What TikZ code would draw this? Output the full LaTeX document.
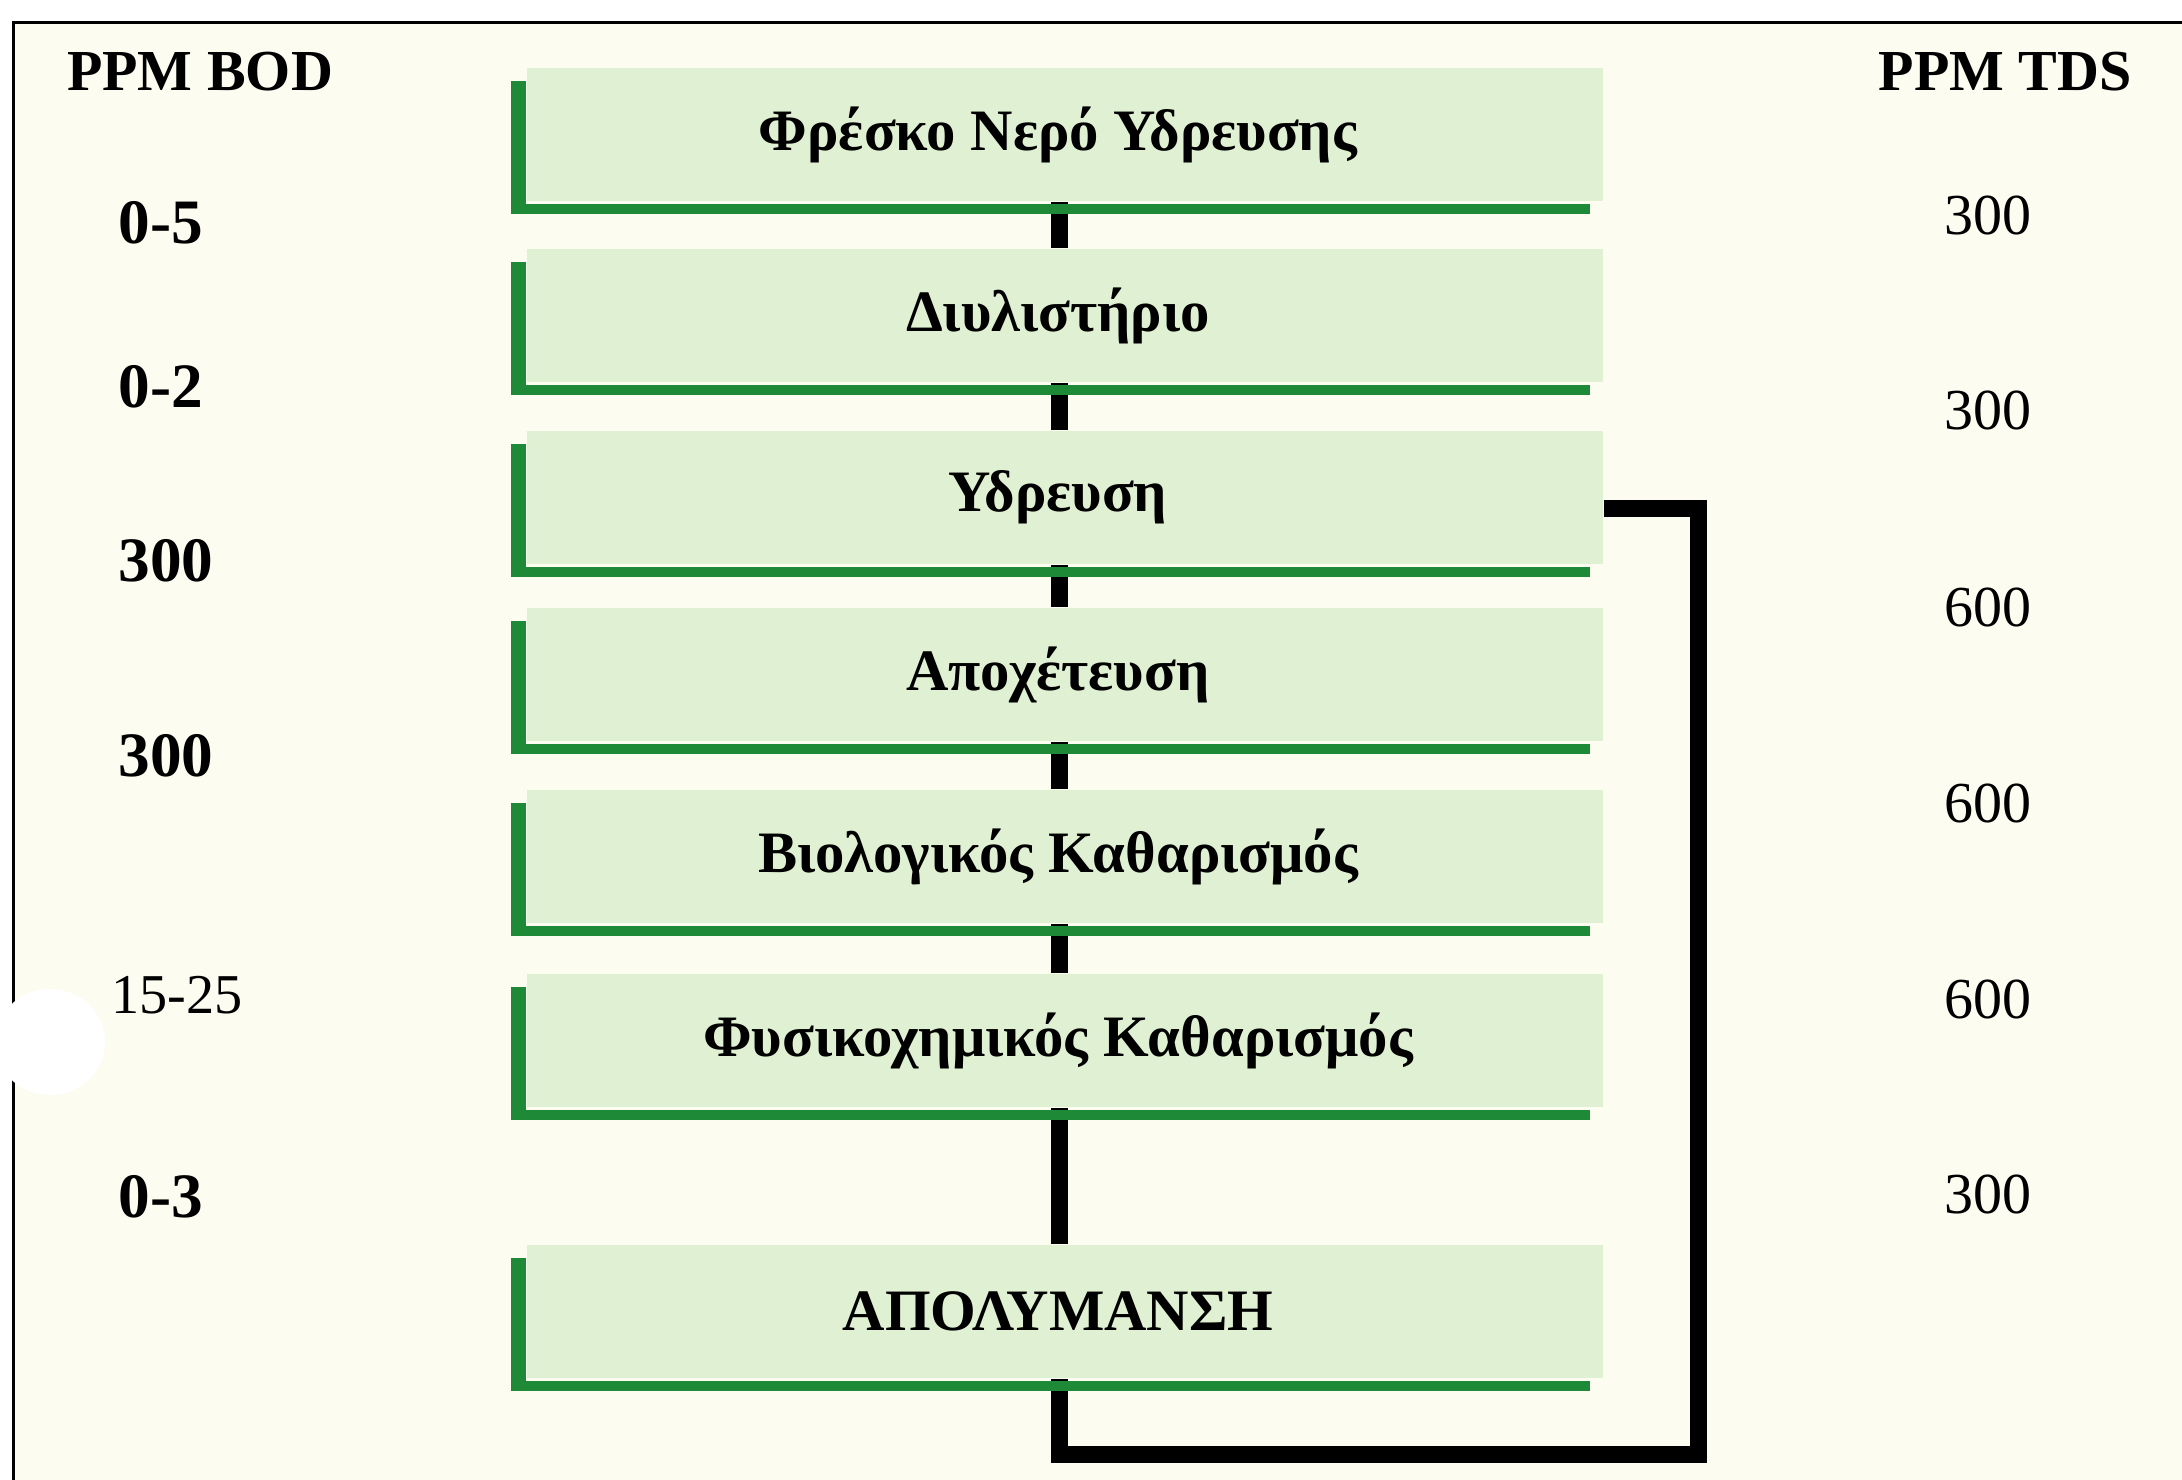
\documentclass[tikz,border=0pt]{standalone}
\usepackage{fontspec}
\setmainfont{Liberation Serif}
\definecolor{cream}{RGB}{253,252,241}
\definecolor{boxfill}{RGB}{224,241,211}
\definecolor{gline}{RGB}{30,138,55}
\begin{document}
\begin{tikzpicture}[x=0.1mm,y=-0.1mm,
  stage/.style={rectangle, fill=boxfill, minimum width=107.6mm, minimum height=13.3mm, inner sep=0pt,
    font=\bfseries\fontsize{16.7}{18}\selectfont, execute at begin node={\kern-1.4mm}},
  conn/.style={line width=1.7mm, black},
  loopline/.style={line width=1.7mm, black, line join=miter},
  glinefill/.style={fill=gline},
  bodlab/.style={anchor=west, inner sep=0pt, font=\bfseries\fontsize{18}{20}\selectfont},
  tdslab/.style={inner sep=0pt, font=\fontsize{16.5}{18}\selectfont},
  headlab/.style={inner sep=0pt, font=\bfseries\fontsize{16.5}{18}\selectfont}]
\useasboundingbox (0,0) rectangle (2182,1480);
\fill[white] (0,0) rectangle (2182,1480);
\fill[cream] (13,23) rectangle (2182,1480);
\draw[line width=0.3mm] (13,1480) -- (13,23) -- (2182,23);

% stages
\node[stage] (n1) at (1065,134.5) {Φρέσκο Νερό Υδρευσης};
\node[stage] (n2) at (1065,315.5) {Διυλιστήριο};
\node[stage] (n3) at (1065,497.5) {Υδρευση};
\node[stage] (n4) at (1065,674.5) {Αποχέτευση};
\node[stage] (n5) at (1065,856.5) {Βιολογικός Καθαρισμός};
\node[stage] (n6) at (1065,1040.5) {Φυσικοχημικός Καθαρισμός};
\node[stage] (n7) at (1065,1311.5) {ΑΠΟΛΥΜΑΝΣΗ};

% connectors
\foreach \a/\b in {n1/n2,n2/n3,n3/n4,n4/n5,n5/n6,n6/n7}
  \draw[conn] ([xshift=-0.6mm]\a.south) -- ([xshift=-0.6mm]\b.north);

% return loop
\coordinate (loopcorner) at (1698,1454);
\draw[loopline] ([yshift=-1.1mm]n3.east) -| (loopcorner) -| ([xshift=-0.6mm]n7.south);

% green L borders
\foreach \n in {n1,n2,n3,n4,n5,n6,n7}{
  \fill[glinefill] ([shift={(-15,14)}]\n.north west) rectangle ([shift={(0,12)}]\n.south west);
  \fill[glinefill] ([shift={(-15,2)}]\n.south west) rectangle ([shift={(-14,12)}]\n.south east);
}

% left column
\node[headlab] (hbod) at (200,72) {PPM BOD};
\node[bodlab] (b1) at (118,223) {0-5};
\node[bodlab] (b2) at (118,387) {0-2};
\node[bodlab] (b3) at (118,561) {300};
\node[bodlab] (b4) at (118,756) {300};
\node[anchor=west, inner sep=0pt, font=\fontsize{16}{18}\selectfont] (b5) at (111,995) {15-25};
\node[bodlab] (b6) at (118,1197) {0-3};

% right column
\node[headlab] (htds) at (2005,72) {PPM TDS};
\node[tdslab] (t1) at (1988,216) {300};
\node[tdslab] (t2) at (1988,411) {300};
\node[tdslab] (t3) at (1988,608) {600};
\node[tdslab] (t4) at (1988,804) {600};
\node[tdslab] (t5) at (1988,999) {600};
\node[tdslab] (t6) at (1988,1194) {300};

% scan blot
\fill[white] (50,1042) ellipse [x radius=5.5mm, y radius=5.3mm];
\end{tikzpicture}
\end{document}
